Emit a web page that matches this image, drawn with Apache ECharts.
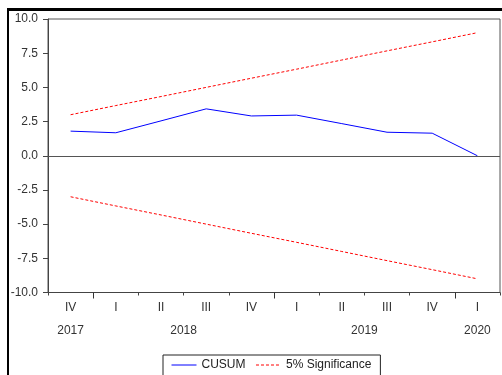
<!DOCTYPE html>
<html>
<head>
<meta charset="utf-8">
<script src="https://cdn.jsdelivr.net/npm/echarts@6/dist/echarts.min.js"></script>
<style>
  html, body { margin: 0; padding: 0; background: #fff; }
  #chart { position: absolute; left: 0; top: 0; width: 502px; height: 375px; }
  #frame { position: absolute; left: 7px; top: 8px; width: 520px; height: 400px;
           border-left: 2px solid #000; border-top: 3px solid #000; pointer-events: none; }
</style>
</head>
<body>
<div id="chart"></div>
<div id="frame"></div>
<script>
// Quarterly periods of the recursive-residual sample
const quarters = ['IV', 'I', 'II', 'III', 'IV', 'I', 'II', 'III', 'IV', 'I'];
const periodYears = ['2017', '2018', '2018', '2018', '2018', '2019', '2019', '2019', '2019', '2020'];

// CUSUM statistic and its 5% significance bounds
const cusum = [1.80, 1.68, 2.55, 3.43, 2.91, 2.97, 2.35, 1.72, 1.65, 0.00];
const upperBound = [3.00, 3.67, 4.33, 5.00, 5.67, 6.33, 7.00, 7.67, 8.33, 9.00];
const lowerBound = [-3.00, -3.67, -4.33, -5.00, -5.67, -6.33, -7.00, -7.67, -8.33, -9.00];

const yTicks = ['-10.0', '-7.5', '-5.0', '-2.5', '0.0', '2.5', '5.0', '7.5', '10.0'];

// Year spans over the category bands: label in the middle, long tick where a year starts
const yearLabelAt = {};
const yearStarts = [];
let spanStart = 0;
for (let i = 1; i <= periodYears.length; i++) {
  if (i === periodYears.length || periodYears[i] !== periodYears[i - 1]) {
    yearLabelAt[(spanStart + i) / 2] = periodYears[spanStart];
    if (i < periodYears.length) yearStarts.push(i);
    spanStart = i;
  }
}

const font = 'Liberation Sans, Arial, sans-serif';
const textColor = '#333';

const chart = echarts.init(document.getElementById('chart'), null, { renderer: 'canvas' });
chart.setOption({
  animation: false,
  grid: { left: 48, right: 2, top: 19, bottom: 82.5, show: true,
          borderColor: '#555', borderWidth: 1, backgroundColor: 'transparent' },
  legend: {
    left: 163, top: 355,
    padding: [4, 9, 10, 8],
    borderColor: '#222', borderWidth: 1,
    itemWidth: 25, itemHeight: 10, itemGap: 10,
    itemStyle: { color: 'transparent', borderWidth: 0, opacity: 0 },
    lineStyle: { width: 1 },
    textStyle: { fontFamily: font, fontSize: 12, color: '#222' },
    data: ['CUSUM', '5% Significance']
  },
  xAxis: [
    {
      type: 'category', data: quarters, boundaryGap: true,
      axisLine: { show: true, onZero: false, lineStyle: { color: '#444', width: 1 } },
      axisTick: { show: true, interval: 0, length: 3, lineStyle: { color: '#444' } },
      axisLabel: { interval: 0, margin: 9, color: textColor, fontFamily: font, fontSize: 12 },
      splitLine: { show: false }
    },
    {
      type: 'value', min: 0, max: periodYears.length, position: 'bottom',
      axisLine: { show: false, onZero: false },
      axisTick: { show: true, customValues: yearStarts, length: 6, lineStyle: { color: '#333' } },
      axisLabel: {
        show: true, customValues: Object.keys(yearLabelAt).map(Number),
        margin: 32, color: textColor, fontFamily: font, fontSize: 12,
        formatter: v => yearLabelAt[v] || ''
      },
      splitLine: { show: false }
    }
  ],
  yAxis: {
    type: 'value', min: -10, max: 10, interval: 2.5,
    axisLine: { show: true, lineStyle: { color: '#444', width: 1 } },
    axisTick: { show: true, length: 5, lineStyle: { color: '#444' } },
    axisLabel: { margin: 10, color: textColor, fontFamily: font, fontSize: 12,
                 formatter: v => yTicks.find(t => parseFloat(t) === v) || v.toFixed(1) },
    splitLine: { show: false }
  },
  series: [
    {
      name: 'CUSUM', type: 'line', xAxisIndex: 0, data: cusum,
      symbol: 'none', lineStyle: { color: '#0000ff', width: 1 },
      itemStyle: { color: '#0000ff' },
      markLine: {
        silent: true, symbol: 'none', label: { show: false },
        lineStyle: { color: '#555', width: 1, type: 'solid' },
        data: [{ yAxis: 0 }]
      }
    },
    {
      name: '5% Significance', type: 'line', xAxisIndex: 0, data: upperBound,
      symbol: 'none', lineStyle: { color: '#ff0000', width: 1, type: [3, 2] },
      itemStyle: { color: '#ff0000' }
    },
    {
      name: '5% Significance', type: 'line', xAxisIndex: 0, data: lowerBound,
      symbol: 'none', lineStyle: { color: '#ff0000', width: 1, type: [3, 2] },
      itemStyle: { color: '#ff0000' }
    }
  ]
});
</script>
</body>
</html>
